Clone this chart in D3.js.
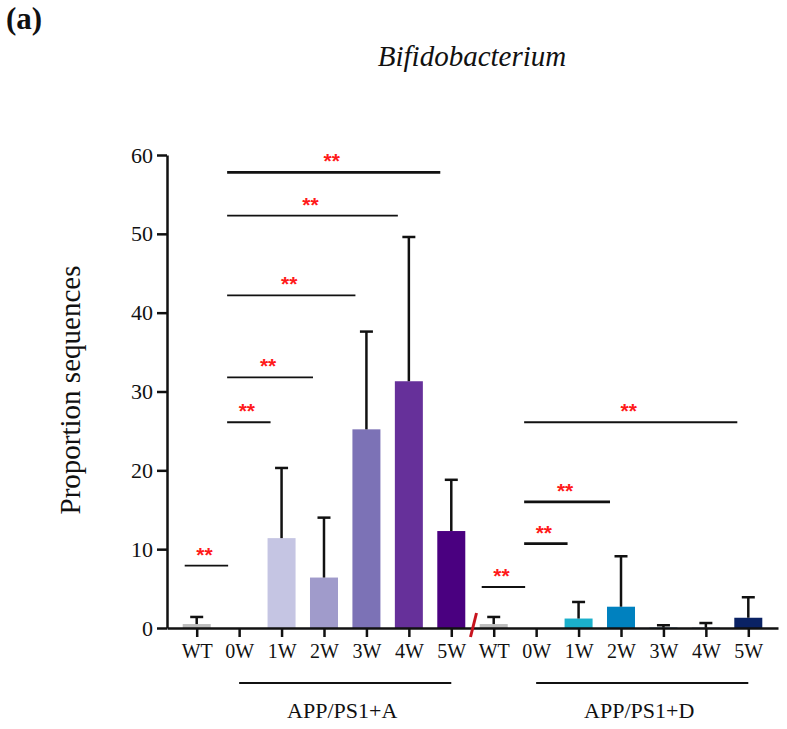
<!DOCTYPE html>
<html>
<head>
<meta charset="utf-8">
<script src="https://cdn.jsdelivr.net/npm/d3@7"></script>
<style>
  html, body { margin: 0; padding: 0; background: #fff; }
  svg { display: block; font-family: "Liberation Serif", "Times New Roman", serif; }
</style>
</head>
<body>
<svg id="chart" width="787" height="729"></svg>
<script>
// ---------------- data ----------------
const panelLabel = "(a)";
const chartTitle = "Bifidobacterium";
const yTitle = "Proportion sequences";
const groups = ["APP/PS1+A", "APP/PS1+D"];
const timepoints = ["WT", "0W", "1W", "2W", "3W", "4W", "5W"];
const meanA = [0.5, 0, 11.4, 6.4, 25.2, 31.3, 12.3];
const sdA   = [0.9, 0, 8.9, 7.6, 12.4, 18.3, 6.5];
const meanD = [0.5, 0, 1.2, 2.7, 0.05, 0.03, 1.3];
const sdD   = [0.9, 0, 2.1, 6.4, 0.3, 0.6, 2.6];
const yTicks = [0, 10, 20, 30, 40, 50, 60];
// significance brackets: [fromTimepoint, toTimepoint, height, label]
const bracketsA = [["WT", "0W", 7.9, "**"], ["0W", "1W", 26.1, "**"], ["0W", "2W", 31.8, "**"],
                   ["0W", "3W", 42.2, "**"], ["0W", "4W", 52.3, "**"], ["0W", "5W", 57.8, "**"]];
const bracketsD = [["WT", "0W", 5.2, "**"], ["0W", "1W", 10.7, "**"], ["0W", "2W", 16.0, "**"],
                   ["0W", "5W", 26.1, "**"]];

// ---------------- styling ----------------
const paletteA = ["#bdbdbd", "#d8d8ee", "#c5c5e3", "#a09bcb", "#7c72b6", "#66309a", "#4a0080"];
const paletteD = ["#bdbdbd", "#8fd8e6", "#1bb0cb", "#0081bf", "#0a5a9c", "#0a3a80", "#0a2264"];
const thickBrackets = { "A-0W-5W": true, "D-0W-1W": true, "D-0W-2W": true };

const svg = d3.select("#chart");
const rows = [];
groups.forEach((g, gi) => {
  const means = gi === 0 ? meanA : meanD;
  const sds = gi === 0 ? sdA : sdD;
  const pal = gi === 0 ? paletteA : paletteD;
  timepoints.forEach((t, ti) => {
    rows.push({ key: gi + "-" + t, group: gi, tp: t, mean: means[ti], sd: sds[ti], color: pal[ti] });
  });
});

const x = d3.scalePoint().domain(rows.map(d => d.key)).range([167, 778]).padding(0.7);
const y = d3.scaleLinear().domain([0, 60]).range([628, 155]);
const barW = 28, capW = 13;

// bars
svg.append("g").selectAll("rect").data(rows.filter(d => d.mean > 0)).join("rect")
  .attr("x", d => x(d.key) - barW / 2)
  .attr("y", d => y(d.mean))
  .attr("width", barW)
  .attr("height", d => y(0) - y(d.mean))
  .attr("fill", d => d.color);

// error bars (upper)
const eb = svg.append("g").attr("stroke", "#111").attr("stroke-width", 2.5);
rows.filter(d => d.sd > 0).forEach(d => {
  const cx = x(d.key);
  eb.append("line").attr("x1", cx).attr("x2", cx).attr("y1", y(d.mean)).attr("y2", y(d.mean + d.sd));
  eb.append("line").attr("x1", cx - capW / 2).attr("x2", cx + capW / 2)
    .attr("y1", y(d.mean + d.sd)).attr("y2", y(d.mean + d.sd));
});

// axes
const yAxis = svg.append("g").attr("transform", "translate(167,0)")
  .call(d3.axisLeft(y).tickValues(yTicks).tickSize(10).tickSizeOuter(0).tickPadding(4));
yAxis.selectAll("path, line").attr("stroke", "#111").attr("stroke-width", 2.5);
yAxis.selectAll("text").attr("font-family", "Liberation Serif").attr("font-size", 22).attr("fill", "#111");

const xAxis = svg.append("g").attr("transform", "translate(0,628)")
  .call(d3.axisBottom(x).tickSize(9).tickSizeOuter(0).tickPadding(7).tickFormat(k => k.split("-")[1]));
xAxis.selectAll("path, line").attr("stroke", "#111").attr("stroke-width", 2.5);
xAxis.selectAll("text").attr("font-family", "Liberation Serif").attr("font-size", 20).attr("fill", "#111");

// red break slash
svg.append("line")
  .attr("x1", (x("0-5W") + x("1-WT")) / 2 + 4).attr("y1", y(0) - 15)
  .attr("x2", (x("0-5W") + x("1-WT")) / 2 - 2).attr("y2", y(0) + 9)
  .attr("stroke", "#c8141e").attr("stroke-width", 3);

// significance brackets
const sig = svg.append("g");
[[bracketsA, 0, "A"], [bracketsD, 1, "D"]].forEach(([list, gi, tag]) => {
  list.forEach(([from, to, h, lab]) => {
    const x1 = x(gi + "-" + from) - 12, x2 = x(gi + "-" + to) - 11;
    const thick = thickBrackets[tag + "-" + from + "-" + to];
    sig.append("line").attr("x1", x1).attr("x2", x2).attr("y1", y(h)).attr("y2", y(h))
      .attr("stroke", "#111").attr("stroke-width", thick ? 2.8 : 1.8);
    sig.append("text").attr("x", (x1 + x2) / 2 - 2).attr("y", y(h) - 4)
      .attr("text-anchor", "middle").attr("font-family", "Liberation Sans")
      .attr("font-weight", "bold").attr("font-size", 21).attr("fill", "#ff1a1a").text(lab);
  });
});

// group lines and labels
groups.forEach((g, gi) => {
  const x1 = x(gi + "-0W"), x2 = x(gi + "-5W");
  svg.append("line").attr("x1", x1).attr("x2", x2).attr("y1", 683).attr("y2", 683)
    .attr("stroke", "#111").attr("stroke-width", 2);
  svg.append("text").attr("x", (x1 + x2) / 2 - 3).attr("y", 718).attr("text-anchor", "middle")
    .attr("font-size", 22).attr("fill", "#111").text(g);
});

// titles
svg.append("text").attr("x", 80).attr("y", 390)
  .attr("transform", "rotate(-90,80,390)").attr("text-anchor", "middle")
  .attr("font-size", 29).attr("fill", "#111").text(yTitle);
svg.append("text").attr("x", 472).attr("y", 66).attr("text-anchor", "middle")
  .attr("font-style", "italic").attr("font-size", 29).attr("fill", "#111").text(chartTitle);
svg.append("text").attr("x", 6).attr("y", 29).attr("font-weight", "bold")
  .attr("font-size", 31).attr("fill", "#111").text(panelLabel);
</script>
</body>
</html>
